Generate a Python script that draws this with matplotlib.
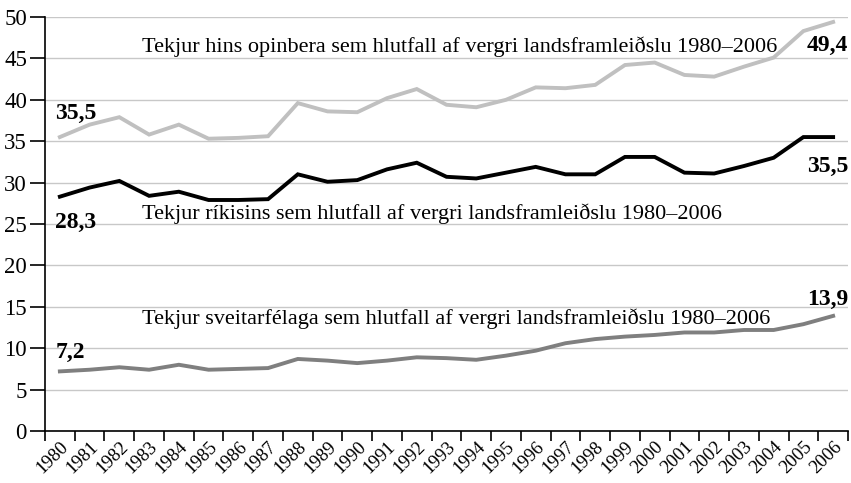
import numpy as np
import matplotlib
matplotlib.use('Agg')
from matplotlib import pyplot as plt
from matplotlib.transforms import ScaledTranslation

years = list(range(1980, 2007))

# tekjur hins opinbera, % af VLF
opinbera = [35.5, 37.0, 37.9, 35.8, 37.0, 35.3, 35.4, 35.6, 39.6, 38.6,
            38.5, 40.2, 41.3, 39.4, 39.1, 40.0, 41.5, 41.4, 41.8, 44.2,
            44.5, 43.0, 42.8, 44.0, 45.1, 48.3, 49.4]
# tekjur ríkisins
rikis = [28.3, 29.4, 30.2, 28.4, 28.9, 27.9, 27.9, 28.0, 31.0, 30.1,
         30.3, 31.6, 32.4, 30.7, 30.5, 31.2, 31.9, 31.0, 31.0, 33.1,
         33.1, 31.2, 31.1, 32.0, 33.0, 35.5, 35.5]
# tekjur sveitarfélaga
sveitarfelaga = [7.2, 7.4, 7.7, 7.4, 8.0, 7.4, 7.5, 7.6, 8.7, 8.5,
                 8.2, 8.5, 8.9, 8.8, 8.6, 9.1, 9.7, 10.6, 11.1, 11.4,
                 11.6, 11.9, 11.9, 12.2, 12.2, 12.9, 13.9]

labels = [
    'Tekjur hins opinbera sem hlutfall af vergri landsframleiðslu 1980–2006',
    'Tekjur ríkisins sem hlutfall af vergri landsframleiðslu 1980–2006',
    'Tekjur sveitarfélaga sem hlutfall af vergri landsframleiðslu 1980–2006',
]

plt.rcParams['font.family'] = ['Liberation Serif', 'DejaVu Serif']

fig = plt.figure(figsize=(8.51, 4.83), dpi=100)
ax = fig.add_axes((45 / 851, 1 - 431 / 483, 803 / 851, 414 / 483))

x = np.arange(len(years))
ax.plot(x, opinbera, color='#c0c0c0', lw=2.8, solid_joinstyle='miter', zorder=3)
ax.plot(x, rikis, color='black', lw=2.8, solid_joinstyle='miter', zorder=3)
ax.plot(x, sveitarfelaga, color='#7f7f7f', lw=2.8, solid_joinstyle='miter', zorder=3)

ax.set_xlim(-0.5, len(years) - 0.5)
ax.set_ylim(0, 50)
ax.set_yticks(np.arange(0, 51, 5))
ax.yaxis.grid(True, color='#c8c8c8', lw=1)
ax.set_axisbelow(True)

# tick marks between years, labels centred on each year
ax.set_xticks(np.arange(-0.5, len(years), 1.0))
ax.set_xticklabels([])
ax.set_xticks(x, minor=True)
ax.set_xticklabels([str(y) for y in years], minor=True, rotation=45,
                   ha='right', va='top', rotation_mode='anchor', fontsize=13.5)
shift = ScaledTranslation(6 / 100, 0, fig.dpi_scale_trans)
for lab in ax.get_xticklabels(minor=True):
    lab.set_transform(lab.get_transform() + shift)
ax.tick_params(axis='x', which='major', length=7, width=1.2, direction='out')
ax.tick_params(axis='x', which='minor', length=0, pad=5)
ax.tick_params(axis='y', length=11, width=1.2, labelsize=16.5, pad=2)

for side in ['top', 'right']:
    ax.spines[side].set_visible(False)
for side in ['left', 'bottom']:
    ax.spines[side].set_linewidth(1.2)

# series labels
ax.text(2.76, 46.4, labels[0], fontsize=16, va='center', ha='left')
ax.text(2.76, 26.3, labels[1], fontsize=16, va='center', ha='left')
ax.text(2.76, 13.6, labels[2], fontsize=16, va='center', ha='left')

# start and end values
ax.text(0.54, opinbera[0] + 2.9, '35,5', fontsize=17, fontweight='bold', ha='center', va='center')
ax.text(0.54, rikis[0] - 3.1, '28,3', fontsize=17, fontweight='bold', ha='center', va='center')
ax.text(0.34, sveitarfelaga[0] + 2.3, '7,2', fontsize=17, fontweight='bold', ha='center', va='center')
ax.text(26.5, opinbera[-1] - 2.8, '49,4', fontsize=17, fontweight='bold', ha='right', va='center')
ax.text(26.5, rikis[-1] - 3.6, '35,5', fontsize=17, fontweight='bold', ha='right', va='center')
ax.text(26.5, sveitarfelaga[-1] + 2.0, '13,9', fontsize=17, fontweight='bold', ha='right', va='center')

plt.savefig('out.png', dpi=100)
